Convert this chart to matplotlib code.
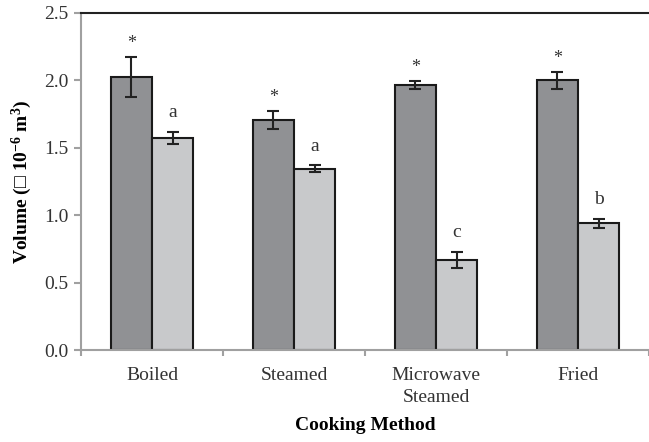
import numpy as np
from matplotlib import pyplot as plt

# volumes per cooking method (x 10^-6 m^3)
methods = ["Boiled", "Steamed", "Microwave\nSteamed", "Fried"]
raw = [2.025, 1.705, 1.965, 2.0]
raw_err = [0.15, 0.065, 0.03, 0.065]
cooked = [1.575, 1.345, 0.67, 0.94]
cooked_err = [0.045, 0.025, 0.06, 0.035]
raw_marks = ["*", "*", "*", "*"]
cooked_marks = ["a", "a", "c", "b"]

plt.rcParams['font.family'] = ['Liberation Serif', 'DejaVu Serif']
plt.rcParams['mathtext.fontset'] = 'custom'
plt.rcParams['mathtext.rm'] = 'Liberation Serif:bold'
plt.rcParams['mathtext.default'] = 'rm'

fig = plt.figure(figsize=(6.49, 4.42), dpi=100)
ax = fig.add_axes([0.1248, 0.208, 0.8752, 0.7626])

x = np.arange(len(methods))
w = 0.29
err_kw = dict(ecolor="#222222", elinewidth=1.5, capsize=4, capthick=1.5)
ax.bar(x - w / 2, raw, w, yerr=raw_err, color="#909194", edgecolor="#1a1a1a",
       linewidth=1.5, error_kw=err_kw, zorder=2)
ax.bar(x + w / 2, cooked, w, yerr=cooked_err, color="#c8c9cb", edgecolor="#1a1a1a",
       linewidth=1.5, error_kw=err_kw, zorder=2)

# significance letters above the error bars
for i in range(len(methods)):
    ax.text(x[i] - w / 2, raw[i] + raw_err[i] + 0.1, raw_marks[i],
            ha="center", va="center", fontsize=13, color="#333333")
    ax.text(x[i] + w / 2, cooked[i] + cooked_err[i] + 0.14, cooked_marks[i],
            ha="center", va="center", fontsize=14, color="#333333")

ax.set_xlim(-0.5, 3.5)
ax.set_ylim(0, 2.5)
ax.set_yticks(np.arange(0, 2.51, 0.5))
ax.set_yticklabels(["%.1f" % v for v in np.arange(0, 2.51, 0.5)])
ax.set_xticks(x)
ax.set_xticklabels(methods, linespacing=1.4)
ax.set_xticks(np.arange(-0.5, 3.6, 1), minor=True)
ax.tick_params(axis="x", which="major", length=0, labelsize=14, pad=12, colors="#333333")
ax.tick_params(axis="x", which="minor", length=4, width=1.5, color="#a0a0a0")
ax.tick_params(axis="y", length=5, width=1.5, labelsize=14, colors="#333333", pad=4)
ax.tick_params(axis="y", color="#a0a0a0")

ax.spines["right"].set_visible(False)
ax.spines["left"].set_color("#a0a0a0")
ax.spines["left"].set_linewidth(1.5)
ax.spines["bottom"].set_color("#a0a0a0")
ax.spines["bottom"].set_linewidth(1.5)
ax.spines["top"].set_color("#222222")
ax.spines["top"].set_linewidth(1.5)

ax.set_ylabel("Volume (\u25a1 10$^{-6}$ m$^{3}$)", fontsize=14, fontweight="bold",
              labelpad=7)
ax.set_xlabel("Cooking Method", fontsize=14, fontweight="bold", labelpad=8)

plt.savefig("out.png")
plt.close()
